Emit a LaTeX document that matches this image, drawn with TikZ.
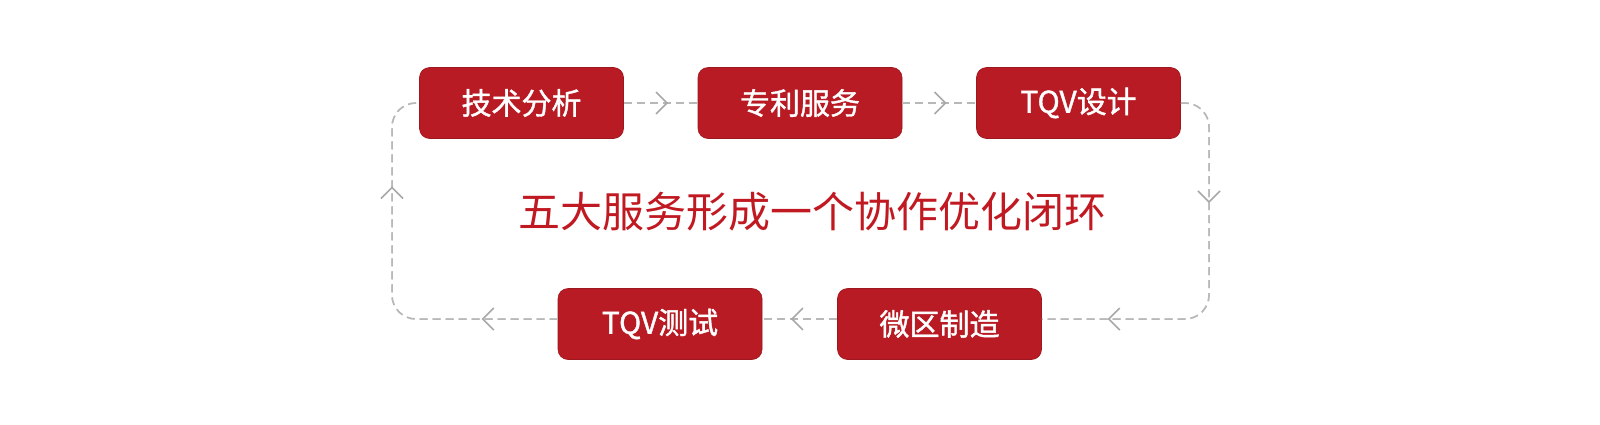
\documentclass[tikz,border=0pt]{standalone}
\usepackage{fontspec}
\usepackage{xcolor}
\usetikzlibrary{arrows.meta,decorations.markings}
\newfontfamily\cjk{Noto Sans CJK SC}[BoldFont=Noto Sans CJK SC, BoldFeatures={FakeBold=1.3}]
\definecolor{boxred}{RGB}{184,27,35}
\definecolor{titlered}{RGB}{192,25,33}
\definecolor{loopgray}{RGB}{184,184,184}
\definecolor{tipgray}{RGB}{168,168,168}

\begin{document}
\begin{tikzpicture}[x=1pt,y=-1pt,
    servicebox/.style={fill=boxred, draw=boxred!85!black, line width=0.6pt, rounded corners=10pt,
        minimum width=204pt, minimum height=71pt, text=white, font=\cjk\bfseries\fontsize{30}{36}\selectfont},
    flow/.style={draw=loopgray, line width=1.5pt, dash pattern=on 8pt off 5pt, rounded corners=24pt},
    chevron/.style={decoration={markings, mark=at position #1 with {\arrow[tipgray, line width=1.6pt]{Straight Barb[length=11pt, width=22pt]}}}, postaction={decorate}}]
    \useasboundingbox (0,0) rectangle (1600,424);

    \node[servicebox] (analyse) at (521.5,103) {技术分析};
    \node[servicebox] (patent) at (800,103) {专利服务};
    \node[servicebox] (design) at (1078.5,103) {TQV设计};
    \node[servicebox] (test) at (660,324) {TQV测试};
    \node[servicebox] (make) at (939.5,324) {微区制造};

    \node[text=titlered, font=\cjk\fontsize{42}{48}\selectfont] (title) at (812,212) {五大服务形成一个协作优化闭环};

    \coordinate (rt) at (1209,103);
    \coordinate (rb) at (1209,319);
    \coordinate (lb) at (392,319);
    \coordinate (lt) at (392,103);

    \draw[flow, chevron=0.6] (analyse.east) -- (patent.west);
    \draw[flow, chevron=0.6] (patent.east) -- (design.west);
    \draw[flow, chevron=118pt] (design.east) -- (rt) -- (rb) -- ([yshift=5pt]make.east);
    \draw[flow, chevron=325pt] (design.east) -- (rt) -- (rb) -- ([yshift=5pt]make.east);
    \draw[flow, chevron=0.62] ([yshift=5pt]make.west) -- ([yshift=5pt]test.east);
    \draw[flow, chevron=76pt] ([yshift=5pt]test.west) -- (lb) -- (lt) -- (analyse.west);
    \draw[flow, chevron=288pt] ([yshift=5pt]test.west) -- (lb) -- (lt) -- (analyse.west);
\end{tikzpicture}
\end{document}
